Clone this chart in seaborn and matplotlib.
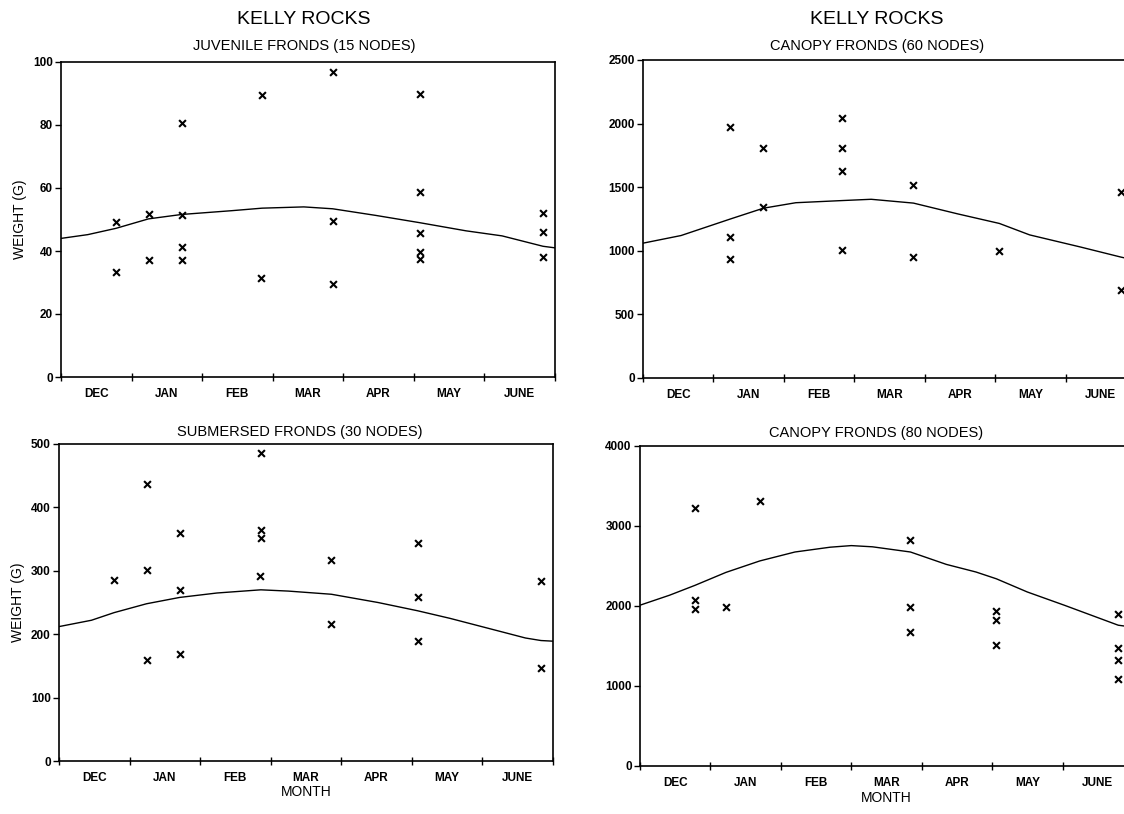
import matplotlib
matplotlib.use("Agg")
import matplotlib.pyplot as plt
import seaborn as sns
from matplotlib.ticker import FixedLocator, NullFormatter, FixedFormatter

sns.set_theme(style="ticks")
plt.rcParams["font.family"] = ["Liberation Sans", "DejaVu Sans"]
plt.rcParams["text.color"] = "black"
plt.rcParams["axes.labelcolor"] = "black"
plt.rcParams["xtick.color"] = "black"
plt.rcParams["ytick.color"] = "black"

# Month axis: 0 = start of December, 7 = end of June
months = ["DEC", "JAN", "FEB", "MAR", "APR", "MAY", "JUNE"]

# Juvenile fronds (15 nodes)
juv_x = [0.78, 0.78, 1.24, 1.24, 1.71, 1.71, 1.71, 1.71, 2.85, 2.83, 3.85, 3.85, 3.85,
         5.08, 5.08, 5.08, 5.08, 5.08, 6.83, 6.83, 6.83]
juv_w = [49.3, 33.2, 51.6, 37.3, 80.5, 51.4, 41.4, 37.3, 89.5, 31.5, 96.8, 49.6, 29.6,
         89.9, 58.8, 45.6, 39.7, 37.5, 52.1, 46.0, 38.0]
juv_fit_x = [0, 0.38, 0.78, 1.24, 1.71, 2.42, 2.85, 3.44, 3.85, 4.46, 5.08, 5.74, 6.25, 6.83, 7.0]
juv_fit_w = [44.0, 45.2, 47.2, 50.2, 51.6, 52.8, 53.6, 54.0, 53.4, 51.3, 49.0, 46.4, 44.8, 41.5, 41.0]

# Canopy fronds (60 nodes)
c60_x = [1.24, 1.24, 1.24, 1.71, 1.71, 2.83, 2.83, 2.83, 2.83, 3.84, 3.84, 5.06, 6.79, 6.79]
c60_w = [1975, 1105, 935, 1812, 1343, 2045, 1812, 1628, 1005, 1518, 948, 1000, 1463, 688]
c60_fit_x = [0, 0.54, 1.24, 1.71, 2.17, 2.83, 3.24, 3.84, 4.47, 5.06, 5.49, 6.21, 6.79, 7.0]
c60_fit_w = [1060, 1120, 1250, 1335, 1378, 1395, 1405, 1375, 1290, 1215, 1125, 1030, 950, 925]

# Submersed fronds (30 nodes)
sub_x = [0.78, 1.24, 1.24, 1.24, 1.71, 1.71, 1.71, 2.86, 2.86, 2.86, 2.85, 3.86, 3.85,
         5.08, 5.08, 5.08, 6.83, 6.83]
sub_w = [286, 437, 301, 159, 359, 269, 169, 486, 364, 351, 292, 317, 216,
         344, 259, 190, 284, 147]
sub_fit_x = [0, 0.46, 0.78, 1.24, 1.71, 2.24, 2.86, 3.25, 3.86, 4.52, 5.08, 5.54, 6.30, 6.61, 6.83, 7.0]
sub_fit_w = [212, 222, 234, 248, 258, 265, 270, 268, 263, 250, 237, 225, 203, 194, 190, 189]

# Canopy fronds (80 nodes)
c80_x = [0.78, 0.78, 0.78, 1.22, 1.70, 3.84, 3.84, 3.83, 5.06, 5.06, 5.06,
         6.79, 6.79, 6.79, 6.79]
c80_w = [3225, 2079, 1967, 1988, 3313, 2821, 1988, 1675, 1938, 1821, 1517,
         1904, 1475, 1329, 1092]
c80_fit_x = [0, 0.42, 0.78, 1.22, 1.70, 2.20, 2.70, 3.0, 3.30, 3.84, 4.35, 4.77, 5.06, 5.5, 6.03, 6.79, 7.0]
c80_fit_w = [2010, 2135, 2258, 2420, 2563, 2675, 2735, 2755, 2740, 2675, 2520, 2425, 2340, 2175, 2008, 1760, 1735]

W, H = 1124, 814
fig = plt.figure(figsize=(W / 100, H / 100), dpi=100)


def rect(l, r, t, b):
    return [l / W, 1 - b / H, (r - l) / W, (b - t) / H]


tick_family = ["Liberation Sans Narrow", "Liberation Sans", "DejaVu Sans"]


def panel(r, xs, ws, fx, fw, ymax, ystep, ylabel, xlabel):
    ax = fig.add_axes(r)
    sns.lineplot(x=fx, y=fw, ax=ax, color="black", linewidth=1.0)
    sns.scatterplot(x=xs, y=ws, ax=ax, marker="x", color="black", s=24,
                    linewidth=1.5, zorder=3)
    ax.set_xlim(0, 7)
    ax.set_ylim(0, ymax)
    ax.xaxis.set_major_locator(FixedLocator(range(8)))
    ax.xaxis.set_major_formatter(NullFormatter())
    ax.xaxis.set_minor_locator(FixedLocator([i + 0.5 for i in range(7)]))
    ax.xaxis.set_minor_formatter(FixedFormatter(months))
    ax.tick_params(axis="x", which="minor", length=0, pad=8)
    ax.tick_params(axis="x", which="major", direction="inout", length=6, width=1)
    ax.set_yticks(range(0, ymax + 1, ystep))
    ax.tick_params(axis="y", direction="out", length=4, width=1, pad=2)
    for lab in ax.get_xticklabels(minor=True) + ax.get_yticklabels():
        lab.set_fontfamily(tick_family)
        lab.set_fontweight("bold")
        lab.set_fontsize(8.5)
    for s in ax.spines.values():
        s.set_linewidth(1.2)
        s.set_color("black")
    if ylabel:
        ax.set_ylabel("WEIGHT (G)", fontsize=10, labelpad=4)
    else:
        ax.set_ylabel("")
    if xlabel:
        ax.set_xlabel("MONTH", fontsize=10, labelpad=1)
    else:
        ax.set_xlabel("")
    return ax


panel(rect(61, 555, 62, 377), juv_x, juv_w, juv_fit_x, juv_fit_w, 100, 20, True, False)
panel(rect(643, 1136, 60, 378), c60_x, c60_w, c60_fit_x, c60_fit_w, 2500, 500, False, False)
panel(rect(59, 553, 444, 761), sub_x, sub_w, sub_fit_x, sub_fit_w, 500, 100, True, True)
panel(rect(640, 1133, 446, 766), c80_x, c80_w, c80_fit_x, c80_fit_w, 4000, 1000, False, True)

fig.text(304 / W, 1 - 19 / H, "KELLY ROCKS", ha="center", va="center", fontsize=14)
fig.text(304 / W, 1 - 46 / H, "JUVENILE FRONDS (15 NODES)", ha="center", va="center", fontsize=10.5)
fig.text(877 / W, 1 - 19 / H, "KELLY ROCKS", ha="center", va="center", fontsize=14)
fig.text(877 / W, 1 - 46 / H, "CANOPY FRONDS (60 NODES)", ha="center", va="center", fontsize=10.5)
fig.text(300 / W, 1 - 432 / H, "SUBMERSED FRONDS (30 NODES)", ha="center", va="center", fontsize=10.5)
fig.text(876 / W, 1 - 433 / H, "CANOPY FRONDS (80 NODES)", ha="center", va="center", fontsize=10.5)

fig.savefig("out.png", dpi=100, facecolor="white")
